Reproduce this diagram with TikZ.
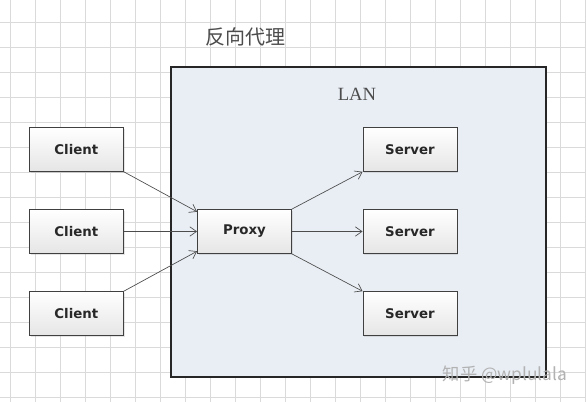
\documentclass[tikz,border=0pt]{standalone}
\usepackage{fontspec}
\setmainfont{Liberation Serif}
\setsansfont{DejaVu Sans}
\newfontfamily\cjk{Noto Sans CJK SC}
\usetikzlibrary{arrows.meta,positioning,shadows}
\definecolor{gridgray}{RGB}{218,218,218}
\definecolor{lanfill}{RGB}{233,238,245}
\definecolor{boxtext}{RGB}{40,40,40}

\begin{document}
\begin{tikzpicture}[x=0.75pt, y=-0.75pt, node distance = 28pt and 55pt,
    >={Straight Barb[length=5pt,width=7pt]}]
    % Estilos
    \tikzstyle{box} = [rectangle, draw=black!75, line width=0.6pt,
    top color=white, bottom color=black!10, minimum width=70.5pt,
    minimum height=33pt, inner sep=0pt, text=boxtext,
    font=\sffamily\bfseries\fontsize{10}{12}\selectfont,
    drop shadow={opacity=0.2, shadow xshift=1pt, shadow yshift=-1pt}]
    \tikzstyle{link} = [draw=black!70, line width=0.5pt, ->]

    \useasboundingbox (0,0) rectangle (586,402);
    \fill[white] (0,0) rectangle (586,402);
    \foreach \gx in {10,35,...,585}
        \draw[gridgray, line width=0.5pt] (\gx,0) -- (\gx,402);
    \foreach \gy in {22,47,...,397}
        \draw[gridgray, line width=0.5pt] (0,\gy) -- (586,\gy);

    \node [font=\cjk\fontsize{15}{18}\selectfont, text=black!70] (title) at (245,37) {反向代理};
    \node [draw=black!85, line width=1pt, fill=lanfill, minimum width=281.25pt,
        minimum height=232.5pt, inner sep=0pt] (lan) at (358.5,222) {};
    \node [font=\fontsize{14}{16}\selectfont, text=black!70] (lantext) at (357,94) {LAN};

    \node [box] (proxy) at (244.5,231.5) {Proxy};
    \node [box, left = of proxy] (client2) {Client};
    \node [box, above = of client2] (client1) {Client};
    \node [box, below = of client2] (client3) {Client};
    \node [box, right = 53pt of proxy] (server2) {Server};
    \node [box, above = of server2] (server1) {Server};
    \node [box, below = of server2] (server3) {Server};

    \draw [link] (client1.south east) -- ([yshift=-2pt]proxy.north west);
    \draw [link] (client2) -- (proxy);
    \draw [link] (client3.north east) -- ([yshift=2pt]proxy.south west);
    \draw [link] (proxy.north east) -- (server1.south west);
    \draw [link] (proxy) -- (server2);
    \draw [link] (proxy.south east) -- (server3.north west);

    \node [font=\cjk\fontsize{13}{15}\selectfont, text=black!30] (mark) at (505,375) {知乎 @wplulala};
\end{tikzpicture}
\end{document}
